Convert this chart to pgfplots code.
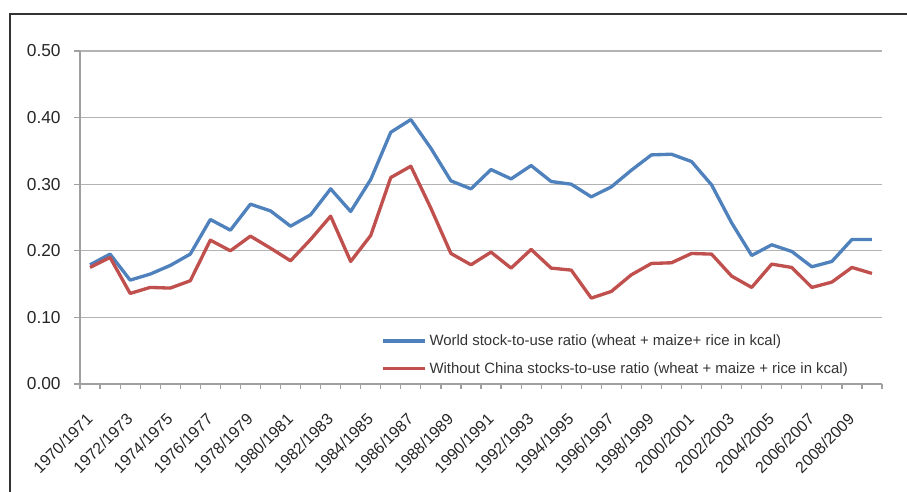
\documentclass[border=0pt]{standalone}
\usepackage{fontspec}
\setmainfont{Liberation Sans}
\usepackage{pgfplots}
\usepackage{pgfplotstable}
\pgfplotsset{compat=1.18}

\definecolor{worldblue}{HTML}{4F81BD}
\definecolor{chinared}{HTML}{C0504D}
\definecolor{gridgray}{HTML}{B3B3B3}
\definecolor{axisgray}{HTML}{A0A0A0}

% index, world ratio, ratio without China
\pgfplotstableread{
x world nochina
0 0.179 0.175
1 0.195 0.190
2 0.156 0.136
3 0.165 0.145
4 0.178 0.144
5 0.195 0.155
6 0.247 0.216
7 0.231 0.200
8 0.270 0.222
9 0.260 0.204
10 0.237 0.185
11 0.254 0.217
12 0.293 0.252
13 0.259 0.184
14 0.307 0.223
15 0.378 0.310
16 0.397 0.327
17 0.354 0.264
18 0.305 0.196
19 0.293 0.179
20 0.322 0.198
21 0.308 0.174
22 0.328 0.202
23 0.304 0.174
24 0.300 0.171
25 0.281 0.129
26 0.296 0.139
27 0.321 0.164
28 0.344 0.181
29 0.345 0.182
30 0.334 0.196
31 0.299 0.195
32 0.242 0.162
33 0.193 0.145
34 0.209 0.180
35 0.199 0.175
36 0.176 0.145
37 0.184 0.153
38 0.217 0.175
39 0.217 0.166
}\ratios

\begin{document}
\begin{tikzpicture}
\path[use as bounding box] (0pt,0pt) rectangle (680.25pt,369pt);
\draw[line width=2.2pt,color=black!80] (7.5pt,0pt) -- (7.5pt,358.5pt) -- (680.25pt,358.5pt);
\begin{axis}[
  at={(60pt,81pt)}, anchor=south west,
  scale only axis, width=601.5pt, height=249.75pt,
  xmin=-0.5, xmax=39.5, ymin=0, ymax=0.5,
  axis lines*=left,
  axis line style={axisgray, line width=1.1pt},
  tick align=outside,
  xtick={0,2,...,38},
  xticklabels={1970/1971,1972/1973,1974/1975,1976/1977,1978/1979,1980/1981,1982/1983,1984/1985,1986/1987,1988/1989,1990/1991,1992/1993,1994/1995,1996/1997,1998/1999,2000/2001,2002/2003,2004/2005,2006/2007,2008/2009},
  minor xtick={-0.5,0.5,...,39.5},
  major x tick style={draw=none},
  minor x tick style={axisgray, line width=0.9pt},
  minor tick length=3.5pt,
  ytick={0,0.1,...,0.5},
  major y tick style={axisgray, line width=0.9pt},
  major tick length=4.5pt,
  ymajorgrids,
  grid style={gridgray, line width=0.8pt},
  /pgf/number format/assume math mode=true,
  y tick label style={/pgf/number format/fixed, /pgf/number format/fixed zerofill, /pgf/number format/precision=2,
    font=\fontsize{13}{15}\selectfont, text=black!85, xshift=-6.5pt},
  x tick label style={font=\fontsize{12}{14}\selectfont, text=black!85, xshift=-3.5pt, yshift=-16.5pt, rotate=45, anchor=north east, inner sep=0pt},
  legend style={at={(0.971,-0.002)}, anchor=south east, draw=none, fill=none,
    font=\fontsize{11.2}{13}\selectfont, text=black!80, row sep=7pt, inner xsep=6pt, inner ysep=5pt},
  legend cell align=left,
  legend image code/.code={\draw[#1] (0pt,0pt) -- (31.5pt,0pt);},
]
\addplot[worldblue, line width=2.5pt, line join=round] table[x=x, y=world] {\ratios};
\addlegendentry{World stock-to-use ratio (wheat + maize+ rice in kcal)}
\addplot[chinared, line width=2.5pt, line join=round] table[x=x, y=nochina] {\ratios};
\addlegendentry{Without China stocks-to-use ratio (wheat + maize + rice in kcal)}
\end{axis}
\end{tikzpicture}
\end{document}
